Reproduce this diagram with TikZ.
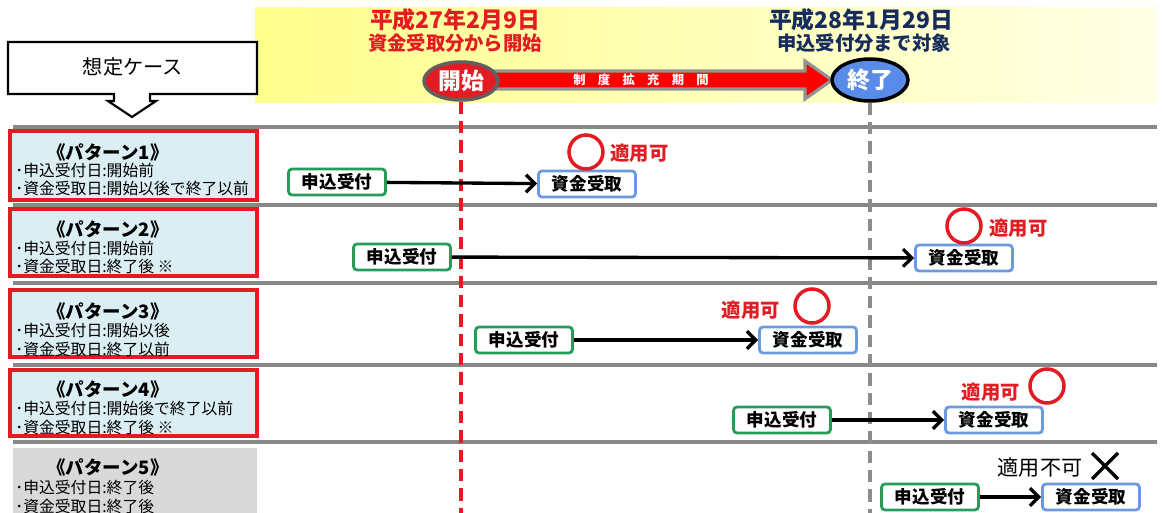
\documentclass[tikz,border=0pt]{standalone}
\usepackage{fontspec}
\setmainfont{Noto Sans CJK JP}
\usetikzlibrary{arrows.meta,shapes.geometric}

\definecolor{casered}{RGB}{226,28,34}
\definecolor{casefill}{RGB}{219,238,243}
\definecolor{casegray}{RGB}{217,217,217}
\definecolor{rulegray}{RGB}{136,136,136}
\definecolor{applygreen}{RGB}{38,156,88}
\definecolor{recvblue}{RGB}{108,154,224}
\definecolor{endblue}{RGB}{88,140,232}
\definecolor{navytext}{RGB}{22,44,92}

\tikzset{
  sep/.style={rulegray,line width=2pt},
  casebox/.style={draw=casered,line width=2.2pt,fill=casefill},
  casetitle/.style={inner sep=0pt,font=\fontsize{10.5}{12}\selectfont\bfseries},
  caseline/.style={anchor=west,inner sep=0pt,font=\fontsize{9}{10}\selectfont},
  applybox/.style={draw=applygreen,line width=1.6pt,rounded corners=2pt,fill=white,
    minimum width=1.94cm,minimum height=0.52cm,inner sep=0pt,
    font=\fontsize{10}{12}\selectfont\bfseries},
  recvbox/.style={applybox,draw=recvblue},
  flow/.style={line width=1.9pt,-{Straight Barb[length=5pt,width=10pt]}},
  okmark/.style={circle,draw=casered,line width=2pt,minimum size=0.68cm,inner sep=0pt},
  oktext/.style={inner sep=0pt,text=casered,font=\fontsize{11}{13}\selectfont\bfseries},
  datetext/.style={inner sep=0pt,font=\fontsize{13}{15}\selectfont\bfseries},
  subtext/.style={inner sep=0pt,font=\fontsize{11}{13}\selectfont\bfseries},
  edge mark/.style={ellipse,line width=2pt,inner sep=0pt,text=white,
    font=\fontsize{13}{15}\selectfont\bfseries},
}

\begin{document}
\begin{tikzpicture}[x=0.02cm,y=-0.02cm]
\useasboundingbox (0,0) rectangle (1164,513);

% header band
\shade[left color=yellow!45,right color=yellow!10] (255,8) rectangle (1157,103);
\node[datetext,text=casered] (startdate) at (455,20) {平成27年2月9日};
\node[subtext,text=casered] (startnote) at (455,43) {資金受取分から開始};
\node[datetext,text=navytext] (enddate) at (861,20) {平成28年1月29日};
\node[subtext,text=navytext] (endnote) at (864,43) {申込受付分まで対象};

% period arrow
\draw[fill=red,draw=gray!85,line width=1.8pt] (470,71) -- (805,71) -- (805,61) -- (832,80)
  -- (805,99) -- (805,89) -- (470,89) -- cycle;
\node[text=white,inner sep=0pt,font=\fontsize{7}{8}\selectfont\bfseries] (period) at (641,80)
  {制\hspace{7pt}度\hspace{7pt}拡\hspace{7pt}充\hspace{7pt}期\hspace{7pt}間};
\node[edge mark,fill=casered,draw=gray!75!black,minimum width=1.48cm,minimum height=0.76cm]
  (kaishi) at (461,81) {開始};
\node[edge mark,fill=endblue,draw=black,minimum width=1.52cm,minimum height=0.84cm]
  (shuryo) at (870,80) {終了};

% case heading
\draw[fill=white,line width=1.2pt] (114,94) -- (8,94) -- (8,42) -- (257,42) -- (257,94)
  -- (150,94) -- (150,101) -- (156,101) -- (132,117) -- (108,101) -- (114,101) -- cycle;
\node[font=\fontsize{11.5}{13}\selectfont] (scenario) at (133,67) {想定ケース};

% row rules
\draw[sep] (13,127) -- (1157,127);
\draw[sep] (13,205) -- (1157,205);
\draw[sep] (13,283) -- (1157,283);
\draw[sep] (13,365) -- (1157,365);
\draw[sep] (13,442) -- (1157,442);

\coordinate (kaishiend) at (461,513);
\coordinate (shuryoend) at (870,513);
\draw[casered,line width=2pt,dash pattern=on 7pt off 4pt] (kaishi.south) -- (kaishiend);
\draw[gray!90,line width=2pt,dash pattern=on 7pt off 4pt] (shuryo.south) -- (shuryoend);

% pattern 1
\draw[casebox] (10,131) rectangle (257,200);
\node[casetitle] (p1t) at (108,152) {《パターン1》};
\node[caseline] (p1a) at (15,170) {･申込受付日:開始前};
\node[caseline] (p1b) at (15,188) {･資金受取日:開始以後で終了以前};
\node[applybox] (apply1) at (337,182) {申込受付};
\node[recvbox] (recv1) at (587,184) {資金受取};
\draw[flow] (apply1) -- (recv1);
\node[okmark] (ok1) at (586,152) {};
\node[oktext,anchor=west] (ok1t) at (610,153) {適用可};

% pattern 2
\draw[casebox] (10,209) rectangle (257,276);
\node[casetitle] (p2t) at (108,229) {《パターン2》};
\node[caseline] (p2a) at (15,248) {･申込受付日:開始前};
\node[caseline] (p2b) at (15,267) {･資金受取日:終了後 ※};
\node[applybox] (apply2) at (402,257) {申込受付};
\node[recvbox] (recv2) at (964,258) {資金受取};
\draw[flow] (apply2) -- (recv2);
\node[okmark] (ok2) at (964,226) {};
\node[oktext,anchor=west] (ok2t) at (989,228) {適用可};

% pattern 3
\draw[casebox] (10,290) rectangle (257,357);
\node[casetitle] (p3t) at (108,311) {《パターン3》};
\node[caseline] (p3a) at (15,330) {･申込受付日:開始以後};
\node[caseline] (p3b) at (15,349) {･資金受取日:終了以前};
\node[applybox] (apply3) at (524,340) {申込受付};
\node[recvbox] (recv3) at (808,340) {資金受取};
\draw[flow] (apply3) -- (recv3);
\node[okmark] (ok3) at (812,306) {};
\node[oktext,anchor=east] (ok3t) at (780,310) {適用可};

% pattern 4
\draw[casebox] (10,370) rectangle (257,436);
\node[casetitle] (p4t) at (108,389) {《パターン4》};
\node[caseline] (p4a) at (15,408) {･申込受付日:開始後で終了以前};
\node[caseline] (p4b) at (15,427) {･資金受取日:終了後 ※};
\node[applybox] (apply4) at (782,420) {申込受付};
\node[recvbox] (recv4) at (994,420) {資金受取};
\draw[flow] (apply4) -- (recv4);
\node[okmark] (ok4) at (1047,386) {};
\node[oktext,anchor=east] (ok4t) at (1020,392) {適用可};

% pattern 5
\fill[casegray] (13,448) rectangle (257,513);
\node[casetitle] (p5t) at (108,467) {《パターン5》};
\node[caseline] (p5a) at (15,487) {･申込受付日:終了後};
\node[caseline] (p5b) at (15,506) {･資金受取日:終了後};
\node[applybox] (apply5) at (930,497) {申込受付};
\node[recvbox] (recv5) at (1091,497) {資金受取};
\draw[flow] (apply5) -- (recv5);
\node[inner sep=0pt,font=\fontsize{12}{14}\selectfont] (ng5t) at (1040,468) {適用不可};
\draw[line width=2pt] (1092,453) -- (1118,479) (1092,479) -- (1118,453);
\end{tikzpicture}
\end{document}
